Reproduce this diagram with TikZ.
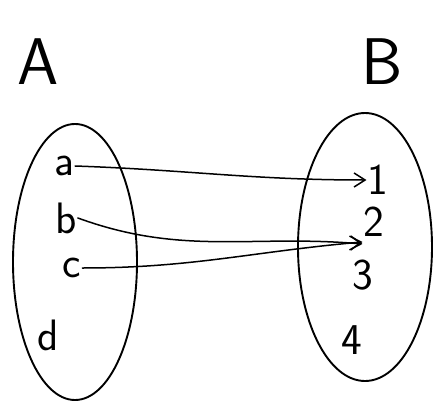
\documentclass[tikz,border=0pt]{standalone}
\usetikzlibrary{arrows.meta}
\begin{document}
\begin{tikzpicture}[x=1pt,y=-1pt,
  stroke/.style={line width=1.9pt,line cap=round,line join=round},
  setlabel/.style={font=\fontsize{66}{66}\selectfont\sffamily},
  elem/.style={font=\fontsize{44}{44}\selectfont\sffamily,inner sep=1pt},
  maparrow/.style={stroke,line width=1.5pt,-{Straight Barb[length=11pt,width=14pt]}}]
\useasboundingbox[fill=white] (0,0) rectangle (434,407);
% set labels
\node[setlabel] (A) at (38,62) {A};
\node[setlabel] (B) at (382,62) {B};
% sets
\draw[stroke] (75,262) ellipse [x radius=62, y radius=138];
\draw[stroke] (365,247) ellipse [x radius=67, y radius=134];
% domain elements
\node[elem] (a) at (64,166) {a};
\node[elem] (b) at (66,218) {b};
\node[elem] (c) at (72,268) {c};
\node[elem] (d) at (48,335) {d};
% codomain elements
\node[elem] (n1) at (378,180) {1};
\node[elem] (n2) at (374,222) {2};
\node[elem] (n3) at (363,275) {3};
\node[elem] (n4) at (352,340) {4};
% mapping
\draw[maparrow] (a.east) to[out=-2,in=180] (n1.west);
\draw[maparrow] (b.east) to[out=-20,in=175] ([yshift=-6pt]n2.south west);
\draw[maparrow] (c.east) to[out=0,in=185] ([yshift=-4pt]n2.south west);
\end{tikzpicture}
\end{document}
